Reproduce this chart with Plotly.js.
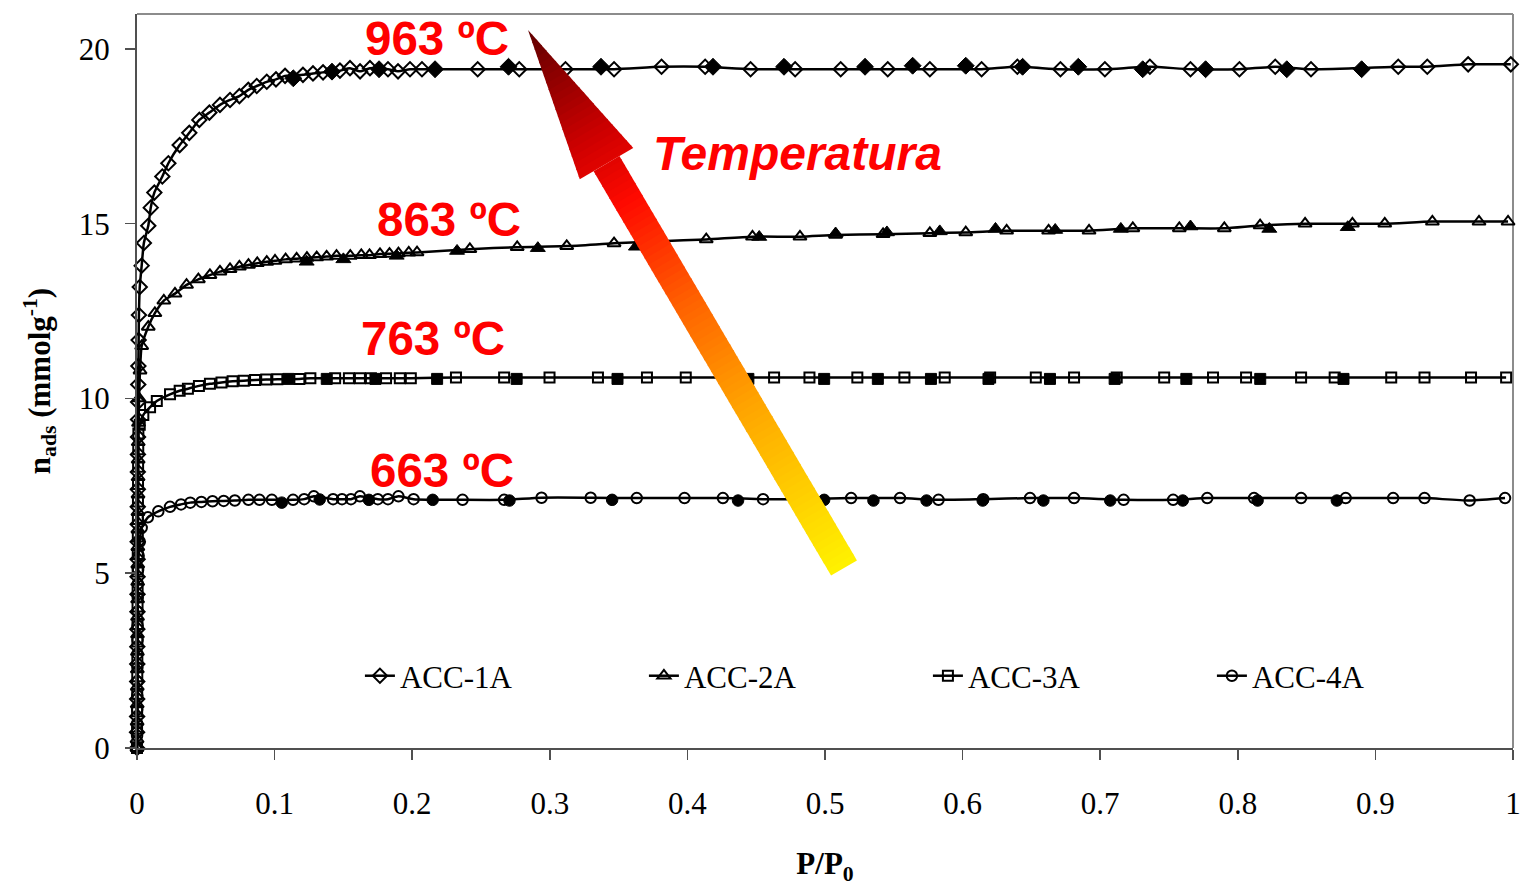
<!DOCTYPE html>
<html>
<head>
<meta charset="utf-8">
<script src="https://cdn.plot.ly/plotly-3.0.1.min.js"></script>
<style>
  html, body { margin: 0; padding: 0; background: #ffffff; }
  #chart { width: 1524px; height: 886px; }
</style>
</head>
<body>
<div id="chart"></div>
<script>
// N2 isotherms of the activated carbons: adsorption (open) and desorption (filled) branches
const seriesNames = ['ACC-1A', 'ACC-2A', 'ACC-3A', 'ACC-4A'];
const tempLabels = ['963 ºC', '863 ºC', '763 ºC', '663 ºC'];
const xTicks = [0, 0.1, 0.2, 0.3, 0.4, 0.5, 0.6, 0.7, 0.8, 0.9, 1];
const yTicks = [0, 5, 10, 15, 20];

// ACC-1A
const ads1X = [0, 0.00004, 0.00008, 0.00012, 0.00016, 0.0002, 0.00024, 0.00028, 0.00032, 0.00036, 0.0004, 0.00044, 0.00048, 0.00052, 0.00056, 0.0006, 0.00064, 0.00068, 0.00072, 0.00076, 0.0008, 0.0009, 0.0010, 0.0012, 0.0014, 0.0020, 0.0034, 0.0050, 0.0082, 0.0100, 0.0126, 0.0184, 0.0228, 0.0310, 0.0380, 0.0453, 0.0526, 0.0603, 0.0676, 0.0744, 0.0809, 0.0870, 0.0943, 0.1010, 0.1076, 0.1206, 0.1279, 0.1352, 0.1475, 0.1548, 0.1621, 0.1693, 0.1824, 0.1897, 0.1984, 0.2071, 0.2476, 0.2778, 0.3114, 0.3467, 0.3812, 0.4129, 0.4459, 0.4783, 0.5114, 0.5456, 0.5762, 0.6138, 0.6398, 0.6711, 0.7034, 0.7361, 0.7656, 0.8012, 0.8272, 0.8532, 0.9166, 0.9377, 0.9674, 0.9984];
const ads1Y = [0, 0.45, 0.9, 1.4, 1.9, 2.4, 2.9, 3.4, 3.9, 4.4, 4.9, 5.4, 5.9, 6.4, 6.9, 7.4, 7.9, 8.4, 8.9, 9.4, 9.9, 10.4, 10.93, 11.67, 12.39, 13.19, 13.8, 14.45, 14.94, 15.46, 15.89, 16.35, 16.73, 17.25, 17.6, 17.97, 18.18, 18.4, 18.54, 18.65, 18.83, 18.94, 19.06, 19.13, 19.23, 19.26, 19.3, 19.33, 19.38, 19.45, 19.36, 19.45, 19.42, 19.36, 19.42, 19.42, 19.42, 19.42, 19.42, 19.42, 19.49, 19.49, 19.42, 19.42, 19.42, 19.42, 19.42, 19.42, 19.49, 19.42, 19.42, 19.49, 19.42, 19.42, 19.49, 19.42, 19.49, 19.49, 19.56, 19.56];
const des1X = [0.1136, 0.1417, 0.1759, 0.2166, 0.2700, 0.3372, 0.4186, 0.4702, 0.5291, 0.5637, 0.6023, 0.6436, 0.6841, 0.7309, 0.7766, 0.8356, 0.8900];
const des1Y = [19.16, 19.35, 19.42, 19.42, 19.49, 19.49, 19.49, 19.49, 19.49, 19.52, 19.52, 19.49, 19.49, 19.42, 19.42, 19.42, 19.42];

// ACC-2A
const ads2X = [0, 0.00005, 0.0001, 0.00015, 0.0002, 0.00025, 0.0003, 0.00035, 0.0004, 0.00045, 0.0005, 0.00055, 0.0006, 0.00065, 0.0007, 0.00075, 0.0008, 0.00085, 0.0009, 0.0011, 0.0015, 0.0022, 0.0034, 0.0082, 0.0130, 0.0195, 0.0276, 0.0360, 0.0446, 0.0530, 0.0603, 0.0676, 0.0744, 0.0810, 0.0874, 0.0943, 0.1003, 0.1080, 0.1160, 0.1235, 0.1306, 0.1378, 0.1450, 0.1550, 0.1630, 0.1690, 0.1766, 0.1835, 0.1900, 0.1975, 0.2035, 0.2419, 0.2763, 0.3123, 0.3467, 0.3805, 0.4137, 0.4473, 0.4818, 0.5077, 0.5422, 0.5762, 0.6023, 0.6320, 0.6625, 0.6919, 0.7237, 0.7575, 0.7902, 0.8162, 0.8489, 0.8833, 0.9068, 0.9414, 0.9753, 0.9964];
const ads2Y = [0, 0.25, 0.75, 1.25, 1.75, 2.25, 2.75, 3.25, 3.75, 4.25, 4.75, 5.25, 5.75, 6.25, 6.75, 7.25, 7.75, 8.25, 8.75, 9.3, 10.0, 10.8, 11.5, 12.05, 12.44, 12.8, 13.0, 13.25, 13.41, 13.53, 13.63, 13.7, 13.77, 13.82, 13.87, 13.91, 13.94, 13.98, 14.0, 14.02, 14.04, 14.06, 14.08, 14.08, 14.1, 14.1, 14.13, 14.14, 14.15, 14.17, 14.18, 14.27, 14.33, 14.36, 14.44, 14.5, 14.55, 14.63, 14.63, 14.68, 14.7, 14.73, 14.75, 14.8, 14.8, 14.8, 14.87, 14.87, 14.87, 14.95, 15.0, 15.0, 15.0, 15.06, 15.06, 15.06];
const des2X = [0.1233, 0.1500, 0.1887, 0.2326, 0.2913, 0.3626, 0.4522, 0.5077, 0.5450, 0.5834, 0.6239, 0.6673, 0.7150, 0.7656, 0.8229, 0.8799];
const des2Y = [13.91, 13.98, 14.08, 14.22, 14.3, 14.34, 14.62, 14.72, 14.75, 14.78, 14.85, 14.82, 14.85, 14.92, 14.85, 14.9];

// ACC-3A
const ads3X = [0, 0.00005, 0.0001, 0.00015, 0.0002, 0.00025, 0.0003, 0.00035, 0.0004, 0.00045, 0.0005, 0.00055, 0.0006, 0.00065, 0.0007, 0.00075, 0.0008, 0.0009, 0.0010, 0.0020, 0.0046, 0.0095, 0.0144, 0.0240, 0.0310, 0.0370, 0.0450, 0.0530, 0.0614, 0.0695, 0.0776, 0.0858, 0.0939, 0.1020, 0.1180, 0.1260, 0.1440, 0.1540, 0.1620, 0.1700, 0.1810, 0.1910, 0.1990, 0.2318, 0.2668, 0.2998, 0.3350, 0.3706, 0.3988, 0.4310, 0.4630, 0.4887, 0.5235, 0.5577, 0.5870, 0.6200, 0.6532, 0.6810, 0.7120, 0.7465, 0.7820, 0.8060, 0.8460, 0.8704, 0.9115, 0.9357, 0.9695, 0.9950];
const ads3Y = [0, 0.55, 1.05, 1.55, 2.05, 2.55, 3.05, 3.55, 4.05, 4.55, 5.05, 5.55, 6.05, 6.55, 7.05, 7.55, 8.05, 8.55, 9.0, 9.25, 9.53, 9.75, 9.93, 10.12, 10.22, 10.28, 10.36, 10.42, 10.46, 10.49, 10.51, 10.53, 10.54, 10.55, 10.56, 10.58, 10.58, 10.58, 10.58, 10.58, 10.58, 10.58, 10.58, 10.6, 10.6, 10.6, 10.6, 10.6, 10.6, 10.6, 10.6, 10.6, 10.6, 10.6, 10.6, 10.6, 10.6, 10.6, 10.6, 10.6, 10.6, 10.6, 10.6, 10.6, 10.6, 10.6, 10.6, 10.6];
const des3X = [0.1100, 0.1379, 0.1733, 0.2181, 0.2759, 0.3492, 0.4443, 0.4994, 0.5384, 0.5770, 0.6188, 0.6635, 0.7105, 0.7626, 0.8163, 0.8768];
const des3Y = [10.56, 10.56, 10.56, 10.56, 10.56, 10.56, 10.56, 10.56, 10.56, 10.56, 10.56, 10.56, 10.56, 10.56, 10.56, 10.56];

// ACC-4A
const ads4X = [0, 0.00005, 0.0001, 0.00015, 0.0002, 0.00025, 0.0003, 0.00035, 0.0004, 0.00045, 0.0005, 0.00055, 0.0006, 0.0008, 0.0012, 0.0020, 0.0034, 0.0079, 0.0155, 0.0240, 0.0320, 0.0387, 0.0468, 0.0549, 0.0630, 0.0711, 0.0810, 0.0890, 0.0980, 0.1134, 0.1215, 0.1285, 0.1425, 0.1490, 0.1555, 0.1620, 0.1750, 0.1824, 0.1900, 0.2010, 0.2366, 0.2668, 0.2940, 0.3297, 0.3632, 0.3979, 0.4258, 0.4550, 0.4880, 0.5190, 0.5545, 0.5825, 0.6150, 0.6490, 0.6810, 0.7170, 0.7530, 0.7778, 0.8118, 0.8460, 0.8784, 0.9129, 0.9357, 0.9685, 0.9942];
const ads4Y = [0, 0.35, 0.7, 1.1, 1.5, 1.9, 2.3, 2.7, 3.1, 3.5, 3.9, 4.3, 4.7, 5.1, 5.5, 5.9, 6.3, 6.6, 6.77, 6.9, 6.97, 7.02, 7.04, 7.06, 7.07, 7.08, 7.1, 7.1, 7.1, 7.1, 7.12, 7.2, 7.12, 7.12, 7.12, 7.2, 7.12, 7.12, 7.2, 7.12, 7.1, 7.1, 7.16, 7.16, 7.15, 7.15, 7.15, 7.12, 7.12, 7.15, 7.15, 7.1, 7.12, 7.15, 7.15, 7.1, 7.1, 7.15, 7.15, 7.15, 7.15, 7.15, 7.15, 7.08, 7.15];
const des4X = [0.1052, 0.1328, 0.1685, 0.2149, 0.2707, 0.3453, 0.4368, 0.4994, 0.5352, 0.5738, 0.6146, 0.6587, 0.7073, 0.7600, 0.8144, 0.8720];
const des4Y = [7.02, 7.11, 7.1, 7.1, 7.08, 7.1, 7.08, 7.1, 7.08, 7.08, 7.08, 7.08, 7.08, 7.08, 7.08, 7.08];

const SERIF = 'Liberation Serif, Times New Roman, serif';
const SANS = 'Liberation Sans, Arial, sans-serif';

const adsX = [ads1X, ads2X, ads3X, ads4X];
const adsY = [ads1Y, ads2Y, ads3Y, ads4Y];
const desX = [des1X, des2X, des3X, des4X];
const desY = [des1Y, des2Y, des3Y, des4Y];
const symbols = ['diamond', 'triangle-up', 'square', 'circle'];
const openSize = [11, 11.5, 10, 10.5];
const fillSize = [13, 13, 11, 11.5];

const traces = [];
for (let i = 0; i < 4; i++) {
  traces.push({
    type: 'scatter', mode: 'lines+markers', name: seriesNames[i],
    x: adsX[i], y: adsY[i], cliponaxis: false,
    line: { color: '#000000', width: 2.5, shape: 'spline', smoothing: 0.6 },
    marker: { symbol: symbols[i], size: openSize[i], color: 'rgba(0,0,0,0)',
              line: { color: '#000000', width: 2 } }
  });
}
for (let i = 0; i < 4; i++) {
  traces.push({
    type: 'scatter', mode: 'markers', showlegend: false,
    x: desX[i], y: desY[i], cliponaxis: false,
    marker: { symbol: symbols[i], size: fillSize[i], color: '#000000',
              line: { color: '#000000', width: 1 } }
  });
}

// Plot area in pixels (used for the gradient arrow geometry)
const M = { l: 137, r: 11, t: 14, b: 138 };
const PW = 1524 - M.l - M.r, PH = 886 - M.t - M.b;

// Gradient arrow, built from thin coloured slices along its axis
const arrowTail = [707, 180];   // px from plot left / bottom
const arrowTip = [391, 718];
const shaftHalf = 15, headHalf = 31, headLen = 155;
const stops = [
  [0.00, [255, 242, 0]],
  [0.30, [255, 165, 0]],
  [0.50, [255, 95, 0]],
  [0.68, [255, 10, 0]],
  [0.80, [205, 0, 0]],
  [1.00, [95, 0, 0]]
];
function colorAt(t) {
  for (let k = 1; k < stops.length; k++) {
    if (t <= stops[k][0]) {
      const a = stops[k - 1], b = stops[k];
      const f = (t - a[0]) / (b[0] - a[0]);
      const c = a[1].map((v, j) => Math.round(v + (b[1][j] - v) * f));
      return 'rgb(' + c.join(',') + ')';
    }
  }
  return 'rgb(' + stops[stops.length - 1][1].join(',') + ')';
}
const dx = arrowTip[0] - arrowTail[0], dy = arrowTip[1] - arrowTail[1];
const L = Math.hypot(dx, dy);
const ux = dx / L, uy = dy / L, nx = -uy, ny = ux;
const tJ = (L - headLen) / L;
function pt(t, w) {
  const cx = arrowTail[0] + ux * L * t, cy = arrowTail[1] + uy * L * t;
  return [(cx + nx * w) / PW, (cy + ny * w) / PH];
}
function halfWidth(t, inHead) {
  return inHead ? headHalf * (1 - t) * L / headLen : shaftHalf;
}
const shapes = [];
const N = 90;
const cuts = [];
for (let k = 0; k <= N; k++) cuts.push(k / N);
cuts.push(tJ);
cuts.sort((a, b) => a - b);
for (let k = 0; k < cuts.length - 1; k++) {
  const t0 = cuts[k];
  if (cuts[k + 1] - t0 < 1e-6) continue;
  const inHead = t0 >= tJ - 1e-9;
  const t1 = Math.min(cuts[k + 1] + 0.002, inHead ? 1 : tJ);
  const w0 = halfWidth(t0, inHead), w1 = halfWidth(t1, inHead);
  const p = [pt(t0, w0), pt(t1, w1), pt(t1, -w1), pt(t0, -w0)];
  const path = 'M' + p.map(q => q[0].toFixed(5) + ',' + q[1].toFixed(5)).join(' L') + ' Z';
  shapes.push({ type: 'path', xref: 'paper', yref: 'paper', path: path,
                fillcolor: colorAt((t0 + cuts[k + 1]) / 2), line: { width: 0 }, layer: 'above' });
}
// plot frame (top and right edges)
shapes.push({ type: 'line', xref: 'paper', yref: 'paper', x0: 0, x1: 1, y0: 1, y1: 1,
              line: { color: '#8c8c8c', width: 2 }, layer: 'below' });
shapes.push({ type: 'line', xref: 'paper', yref: 'paper', x0: 1, x1: 1, y0: 0, y1: 1,
              line: { color: '#8c8c8c', width: 2 }, layer: 'below' });

const labelPos = [[0.218, 20.3], [0.2267, 15.12], [0.215, 11.73], [0.2217, 7.95]];
const annotations = tempLabels.map((t, i) => ({
  text: t, x: labelPos[i][0], y: labelPos[i][1], xref: 'x', yref: 'y', showarrow: false,
  font: { family: SANS, size: 47.5, color: '#ff0000', weight: 'bold' }
}));
annotations.push({
  text: 'Temperatura', x: 0.48, y: 17.0, xref: 'x', yref: 'y', showarrow: false,
  font: { family: SANS, size: 48, color: '#ff0000', weight: 'bold', style: 'italic' }
});

const layout = {
  width: 1524, height: 886,
  margin: M,
  paper_bgcolor: '#ffffff', plot_bgcolor: '#ffffff',
  showlegend: true,
  legend: {
    orientation: 'h', x: 0.162, y: 0.098, xanchor: 'left', yanchor: 'middle',
    bgcolor: 'rgba(0,0,0,0)', font: { family: SERIF, size: 31, color: '#000000' },
    entrywidth: 239, entrywidthmode: 'pixels'
  },
  xaxis: {
    range: [0, 1], tickvals: xTicks, ticktext: xTicks.map(String),
    showgrid: false, zeroline: false, showline: true, linecolor: '#505050', linewidth: 2,
    ticks: 'outside', ticklen: 10, tickwidth: 1.5, tickcolor: '#505050',
    tickfont: { family: SERIF, size: 31, color: '#000000' }, ticklabelstandoff: 17,
    title: { text: '<b>P/P<sub>0</sub></b>', font: { family: SERIF, size: 31, color: '#000000' }, standoff: 33 }
  },
  yaxis: {
    range: [0, 21], tickvals: yTicks, ticktext: yTicks.map(String),
    showgrid: false, zeroline: false, showline: true, linecolor: '#505050', linewidth: 2,
    ticks: 'outside', ticklen: 10, tickwidth: 1.5, tickcolor: '#505050',
    tickfont: { family: SERIF, size: 31, color: '#000000' }, ticklabelstandoff: 9,
    title: { text: '<b>n<sub>ads</sub> (mmolg<sup>-1</sup>)</b>', font: { family: SERIF, size: 31, color: '#000000' }, standoff: 19 }
  },
  shapes: shapes,
  annotations: annotations
};

Plotly.newPlot('chart', traces, layout, { displayModeBar: false, staticPlot: true });
</script>
</body>
</html>
